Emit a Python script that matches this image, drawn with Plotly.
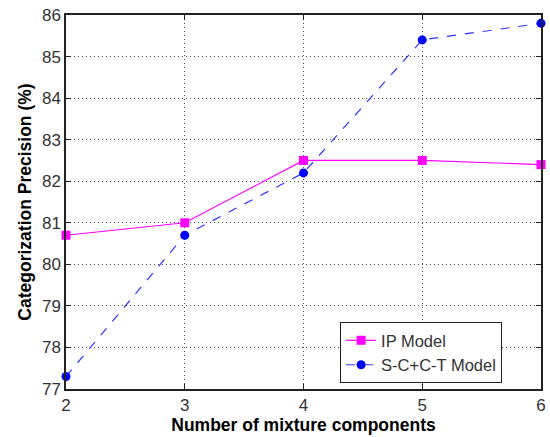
import plotly.graph_objects as go

components = [2, 3, 4, 5, 6]
ip_model = [80.7, 81.0, 82.5, 82.5, 82.4]
sc_ct_model = [77.3, 80.7, 82.2, 85.4, 85.8]
series_names = ["IP Model", "S-C+C-T Model"]
x_ticks = [2, 3, 4, 5, 6]
y_ticks = [77, 78, 79, 80, 81, 82, 83, 84, 85, 86]

FONT = "Liberation Sans, Arial"

fig = go.Figure()
fig.add_trace(go.Scatter(
    x=components, y=ip_model, name=series_names[0], mode="lines+markers",
    line=dict(color="#ff00ff", width=1.2),
    marker=dict(symbol="square", size=9, color="#ff00ff"),
    cliponaxis=False,
))
fig.add_trace(go.Scatter(
    x=components, y=sc_ct_model, name=series_names[1], mode="lines+markers",
    line=dict(color="#3333ff", width=1.2, dash="dash"),
    marker=dict(symbol="circle", size=9, color="#0000ff"),
    cliponaxis=False,
))

axis_common = dict(
    showline=True, linecolor="#222222", linewidth=1.5, mirror="ticks",
    ticks="inside", ticklen=5, tickcolor="#222222",
    showgrid=True, gridcolor="rgba(0,0,0,0.7)", griddash="1px,3px", gridwidth=1,
    zeroline=False, automargin=False,
    tickfont=dict(family=FONT, size=17, color="#333333"),
)

fig.update_xaxes(
    range=[2, 6], tickvals=x_ticks,
    title=dict(text="<b>Number of mixture components</b>", standoff=4,
               font=dict(family=FONT, size=17.5, color="black")),
    **axis_common,
)
fig.update_yaxes(
    range=[77, 86], tickvals=y_ticks,
    title=dict(text="<b>Categorization Precision (%)</b>", standoff=6,
               font=dict(family=FONT, size=17.5, color="black")),
    **axis_common,
)

fig.update_layout(
    width=550, height=437,
    margin=dict(l=66, r=9, t=15, b=48),
    paper_bgcolor="white", plot_bgcolor="white",
    showlegend=True,
    legend=dict(
        x=0.577, y=0.179, xanchor="left", yanchor="top",
        bgcolor="white", bordercolor="#222222", borderwidth=1,
        font=dict(family=FONT, size=16.5, color="#333333"),
        tracegroupgap=0,
    ),
)

fig.write_html(
    "out.html",
    config={"displayModeBar": False},
    post_script="document.body.style.margin='0';document.body.style.padding='0';",
)
